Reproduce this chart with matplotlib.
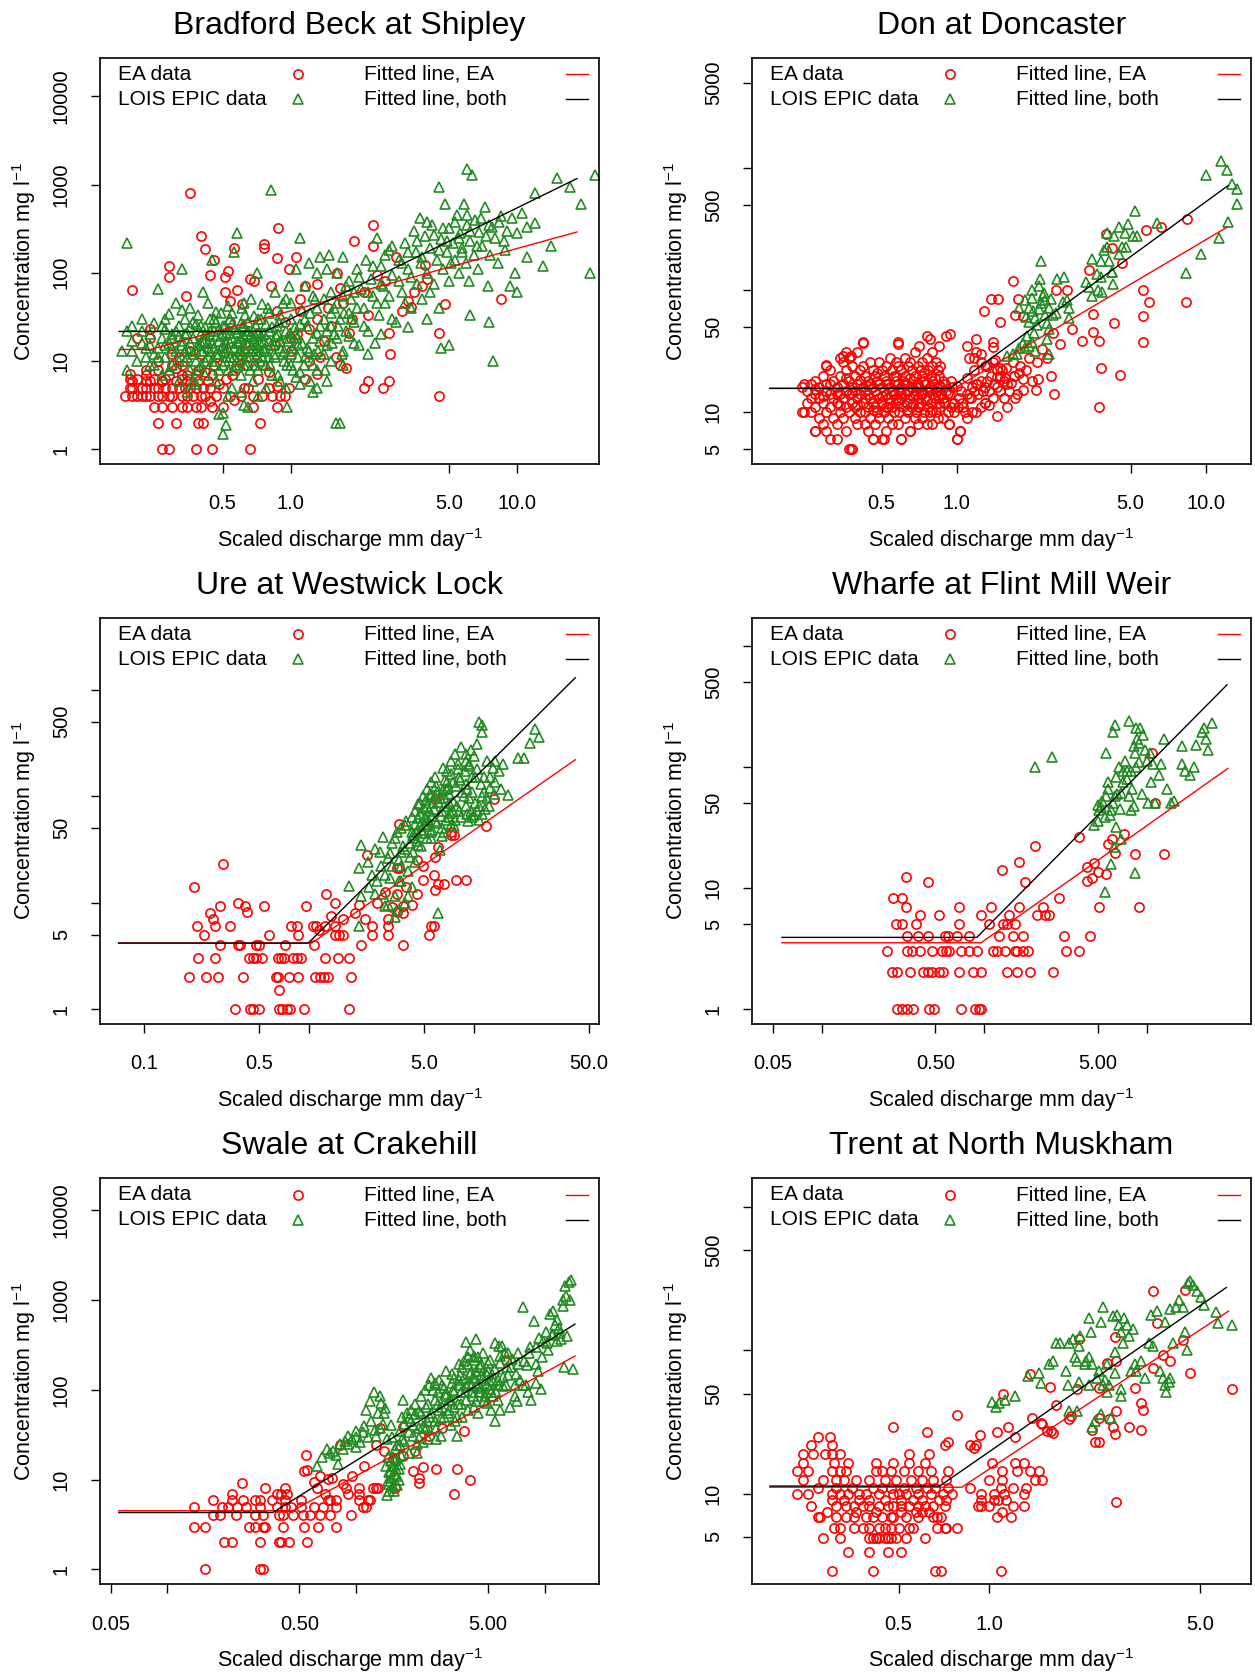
import numpy as np
import matplotlib
matplotlib.use("Agg")
import matplotlib.pyplot as plt
from matplotlib.ticker import FixedLocator, FixedFormatter, NullLocator

plt.rcParams["font.family"] = ["Liberation Sans", "DejaVu Sans"]
plt.rcParams["mathtext.fontset"] = "custom"
plt.rcParams["mathtext.rm"] = "Liberation Sans"
plt.rcParams["mathtext.it"] = "Liberation Sans:italic"
plt.rcParams["mathtext.bf"] = "Liberation Sans:bold"

# ---------------- Bradford Beck at Shipley ----------------
bradford_ea = [
    (0.36, 810), (0.40, 260), (0.42, 185), (0.56, 190), (0.88, 320), (0.76, 210), (0.76, 190), (2.3, 350), (2.3, 200), (1.9, 230),
    (0.20, 63), (0.29, 118), (0.29, 89), (0.345, 55), (0.44, 95), (0.53, 105), (0.51, 89), (0.46, 140), (1.05, 150), (1.15, 70),
    (1.6, 100), (1.65, 68), (0.82, 70), (0.66, 85), (0.69, 80), (0.58, 63), (0.61, 44), (0.54, 48), (0.51, 61), (3.9, 123),
    (4.8, 44), (8.5, 50), (4.5, 21), (2.75, 12), (2.7, 21), (3.1, 37), (3.4, 41), (3.3, 48), (2.2, 33), (1.8, 21),
    (2.1, 5), (2.2, 6), (2.55, 5), (2.7, 6), (4.5, 4), (1.75, 8.3), (1.65, 9.1), (1.2, 23), (1.06, 20), (1.35, 11),
    (1.3, 7.2), (1.15, 6.3), (0.98, 5), (0.94, 4), (0.83, 4), (0.68, 4), (0.54, 4), (0.42, 4), (0.37, 4), (0.33, 4),
    (0.29, 4), (0.26, 4), (0.23, 4), (0.21, 4), (0.185, 4), (0.195, 5), (0.22, 5), (0.25, 5), (0.28, 5), (0.32, 5),
    (0.36, 5), (0.41, 5), (0.195, 6.3), (0.21, 6.3), (0.25, 6.3), (0.28, 6.3), (0.33, 6.3), (0.195, 7.2), (0.23, 8), (0.26, 8),
    (0.31, 8.3), (0.33, 9.1), (0.39, 8), (0.46, 9), (0.58, 8.3), (0.24, 18), (0.21, 18), (0.24, 23), (0.27, 3), (0.33, 3),
    (0.38, 3), (0.40, 3), (0.50, 3), (0.68, 3), (0.87, 3), (0.26, 2), (0.31, 2), (0.39, 2), (0.41, 2), (0.73, 2),
    (0.27, 1), (0.29, 1), (0.38, 1), (0.45, 1), (0.66, 1), (0.9, 4), (0.72, 6.3), (0.87, 5.2), (0.52, 6.3), (0.58, 11),
    (0.63, 16), (0.71, 21), (0.87, 37), (0.94, 28), (1.1, 37), (1.46, 40), (1.3, 75), (0.98, 110), (0.87, 148), (0.54, 28),
    (0.42, 16), (0.36, 13), (0.32, 11), (1.59, 11), (1.86, 30), (3.8, 70), (4.0, 85), (0.3, 12), (0.45, 7), (0.5, 14),
    (0.62, 5), (0.75, 9), (1.0, 13), (1.4, 17), (0.27, 6), (0.35, 7), (0.48, 5.5), (0.56, 3.6), (0.8, 7.5), (0.23, 6),
    (0.44, 3.5), (1.1, 50), (1.5, 25), (2.4, 95), (2.9, 150), (3.5, 60),
    (0.2, 4), (0.22, 4), (0.24, 4), (0.27, 4), (0.3, 4), (0.35, 4), (0.4, 4), (0.47, 4), (0.2, 5), (0.23, 5),
    (0.26, 5), (0.3, 5), (0.34, 5), (0.38, 5), (0.44, 5), (0.5, 5), (0.2, 6), (0.24, 6), (0.27, 6), (0.31, 6),
    (0.35, 6), (0.39, 6), (0.43, 6), (0.23, 7), (0.29, 7), (0.33, 7), (0.38, 7), (0.42, 7.5), (0.25, 3), (0.3, 3),
    (0.35, 3), (0.45, 3), (0.6, 4), (0.75, 4), (0.65, 5), (0.8, 5), (0.55, 7), (0.64, 9), (0.7, 12), (0.85, 15),
    (1.2, 10), (1.0, 18), (1.3, 30), (1.7, 45), (2.1, 60), (2.6, 80), (0.4, 12), (0.3, 9), (0.26, 10), (0.47, 11),
]
bradford_lois = [
    (0.18, 13), (0.19, 22), (0.2, 17), (0.19, 217), (0.19, 8), (0.2, 25), (0.22, 30), (0.23, 11), (0.24, 15), (0.24, 20),
    (0.25, 9), (0.25, 27), (0.26, 14), (0.26, 65), (0.27, 18), (0.27, 7), (0.28, 11), (0.28, 23), (0.29, 16), (0.29, 34),
    (0.3, 9), (0.3, 20), (0.31, 13), (0.31, 45), (0.32, 6), (0.32, 25), (0.33, 17), (0.33, 110), (0.34, 10), (0.34, 30),
    (0.35, 14), (0.35, 21), (0.36, 8), (0.36, 40), (0.37, 12), (0.37, 18), (0.38, 26), (0.38, 5.5), (0.39, 15), (0.39, 33),
    (0.4, 9), (0.4, 20), (0.41, 13), (0.41, 60), (0.42, 24), (0.42, 7), (0.43, 16), (0.43, 11), (0.44, 30), (0.44, 19),
    (0.45, 10), (0.45, 140), (0.46, 14), (0.46, 22), (0.47, 6), (0.47, 28), (0.48, 12), (0.48, 17), (0.49, 35), (0.5, 9),
    (0.5, 20), (0.5, 2.6), (0.51, 13), (0.51, 25), (0.52, 16), (0.52, 1.9), (0.53, 8), (0.53, 42), (0.54, 11), (0.54, 30),
    (0.55, 18), (0.55, 5), (0.56, 14), (0.56, 170), (0.57, 23), (0.58, 10), (0.58, 280), (0.59, 16), (0.6, 7), (0.6, 27),
    (0.61, 12), (0.62, 19), (0.62, 3.2), (0.63, 33), (0.64, 9), (0.65, 15), (0.65, 22), (0.66, 11), (0.67, 50), (0.68, 6),
    (0.68, 18), (0.7, 13), (0.7, 25), (0.71, 100), (0.72, 8), (0.73, 16), (0.74, 30), (0.75, 11), (0.76, 20), (0.77, 14),
    (0.78, 5), (0.79, 40), (0.8, 17), (0.81, 9), (0.82, 860), (0.83, 24), (0.84, 12), (0.85, 60), (0.86, 19), (0.88, 7),
    (0.89, 28), (0.9, 14), (0.92, 45), (0.93, 10), (0.95, 22), (0.96, 3), (0.97, 17), (0.98, 70), (1.0, 12), (1.0, 30),
    (1.02, 8), (1.05, 110), (1.05, 20), (1.08, 15), (1.1, 250), (1.12, 38), (1.15, 11), (1.18, 25), (1.2, 130), (1.22, 6),
    (1.25, 18), (1.28, 50), (1.3, 100), (1.32, 13), (1.35, 150), (1.4, 30), (1.42, 8), (1.45, 22), (1.48, 160), (1.5, 60),
    (1.52, 16), (1.55, 40), (1.58, 2), (1.6, 100), (1.62, 25), (1.65, 2), (1.68, 12), (1.7, 150), (1.72, 35), (1.75, 70),
    (1.8, 19), (1.85, 50), (1.9, 28), (1.95, 110), (2.0, 15), (2.05, 65), (2.1, 40), (2.15, 140), (2.2, 22), (2.25, 85),
    (2.3, 55), (2.35, 16), (2.4, 250), (2.45, 33), (2.5, 120), (2.55, 70), (2.6, 45), (2.7, 180), (2.8, 95), (2.9, 28),
    (3.0, 140), (3.1, 60), (3.2, 220), (3.3, 110), (3.4, 40), (3.5, 300), (3.55, 170), (3.6, 75), (3.7, 420), (3.75, 130),
    (3.8, 50), (3.9, 260), (4.0, 100), (4.0, 30), (4.1, 190), (4.2, 350), (4.3, 75), (4.4, 140), (4.5, 950), (4.5, 40),
    (4.6, 240), (4.7, 110), (4.8, 600), (4.9, 170), (5.0, 320), (5.0, 80), (5.2, 220), (5.3, 140), (5.4, 450), (5.5, 100),
    (5.6, 280), (5.7, 190), (5.8, 600), (5.9, 130), (6.0, 1500), (6.0, 350), (6.1, 80), (6.2, 230), (6.3, 1300), (6.4, 160),
    (6.5, 400), (6.7, 110), (6.8, 290), (7.0, 200), (7.2, 560), (7.4, 70), (7.5, 350), (7.6, 160), (7.8, 10), (8.0, 250),
    (8.2, 130), (8.5, 440), (8.8, 180), (9.0, 300), (9.3, 70), (9.8, 100), (10.0, 60), (10.5, 480), (11, 150), (12, 800),
    (12, 370), (13, 120), (14, 200), (15, 1200), (17, 950), (19, 600), (21, 100), (22, 1300), (5, 15), (4.6, 14),
    (7.5, 28), (6.2, 33), (0.3, 14), (0.32, 19), (0.34, 13), (0.36, 24), (0.38, 10), (0.4, 16), (0.42, 20), (0.44, 13),
    (0.46, 9), (0.48, 23), (0.5, 15), (0.52, 11), (0.54, 21), (0.56, 8), (0.58, 17), (0.6, 13), (0.62, 25), (0.64, 11),
    (0.66, 19), (0.68, 14), (0.7, 9), (0.72, 21), (0.74, 13), (0.76, 17), (0.78, 26), (0.8, 11), (0.84, 15), (0.88, 20),
    (0.92, 12), (0.96, 18), (1.0, 9), (1.04, 24), (1.08, 11), (1.12, 16), (1.16, 30), (1.2, 13), (1.25, 9), (1.3, 21),
    (1.35, 17), (1.4, 12), (1.5, 25), (1.6, 18), (1.7, 9), (1.8, 35), (0.28, 30), (0.33, 38), (0.37, 6), (0.43, 45),
    (0.47, 36), (0.55, 35), (0.61, 40), (0.69, 32), (0.75, 44), (0.83, 7), (0.9, 33), (1.0, 45), (0.25, 12), (0.22, 16),
    (0.2, 13), (0.35, 4.5), (0.53, 4), (0.6, 4.5), (0.72, 4), (0.95, 5), (1.1, 5.5), (1.3, 5), (1.45, 6), (1.25, 4.5),
    (1.05, 6.5), (0.65, 3), (0.48, 2.5), (0.5, 1.5),
    (0.21, 10), (0.22, 22), (0.23, 14), (0.24, 9), (0.26, 11), (0.27, 25), (0.28, 15), (0.29, 8), (0.3, 18), (0.31, 22),
    (0.32, 10), (0.33, 15), (0.34, 20), (0.35, 11), (0.36, 16), (0.37, 28), (0.38, 13), (0.39, 8), (0.4, 25), (0.41, 17),
    (0.42, 10), (0.43, 14), (0.44, 22), (0.45, 16), (0.46, 30), (0.47, 12), (0.48, 8), (0.49, 19), (0.5, 25), (0.51, 10),
    (0.52, 20), (0.53, 14), (0.54, 16), (0.55, 26), (0.56, 11), (0.57, 9), (0.58, 21), (0.59, 13), (0.6, 18), (0.61, 24),
    (0.62, 9), (0.63, 14), (0.64, 20), (0.65, 28), (0.66, 8), (0.67, 13), (0.68, 22), (0.69, 17), (0.7, 11), (0.71, 15),
    (0.72, 30), (0.73, 10), (0.74, 19), (0.76, 13), (0.78, 9), (0.8, 22), (0.82, 15), (0.85, 11), (0.87, 25), (0.9, 17),
    (0.93, 13), (0.96, 9), (0.99, 21), (1.02, 14), (1.06, 18), (1.1, 26), (1.14, 9), (1.18, 14), (1.22, 35), (1.26, 12),
    (1.3, 40), (1.35, 25), (1.4, 50), (1.45, 15), (1.5, 35), (1.55, 20), (1.6, 45), (1.65, 30), (1.7, 55), (1.75, 22),
    (1.8, 80), (1.85, 30), (1.9, 60), (1.95, 40), (2.0, 90), (2.1, 25), (2.2, 60), (2.3, 120), (2.4, 45), (2.5, 75),
    (2.6, 160), (2.7, 55), (2.8, 200), (3.0, 80), (3.1, 130), (3.2, 45), (3.3, 170), (3.4, 90), (3.6, 230), (3.8, 150),
    (4.0, 380), (4.1, 60), (4.3, 270), (4.5, 180), (4.7, 320), (4.9, 230), (5.1, 130), (5.3, 380), (5.5, 250), (5.7, 170),
    (6.0, 450), (6.2, 300), (6.6, 200), (6.9, 420), (7.3, 260), (7.7, 330), (8.3, 380), (8.7, 230), (9.5, 420), (10, 280),
    (11, 330), (1.15, 70), (1.45, 110), (1.25, 55), (0.95, 50), (0.8, 35), (0.62, 45), (0.9, 6), (1.1, 7.5), (1.3, 8),
    (1.5, 10), (1.7, 13), (1.9, 16), (2.2, 12), (2.5, 20), (2.8, 30), (3.3, 24),
]
bradford_fit_ea_q = [0.175, 0.24, 18.3]
bradford_fit_ea_c = [13.5, 13.5, 290]
bradford_fit_both_q = [0.175, 0.77, 18.3]
bradford_fit_both_c = [21.6, 21.6, 1170]

# ---------------- Don at Doncaster ----------------
don_ea = [
    (0.37, 5), (0.38, 5),
    (0.31, 6), (0.46, 6), (0.50, 6), (0.60, 6), (1.0, 6),
    (0.27, 7), (0.30, 7), (0.36, 7), (0.44, 7), (0.52, 7), (0.65, 7), (1.03, 7),
    (0.29, 8), (0.33, 8), (0.40, 8), (0.43, 8), (0.47, 8), (0.55, 8), (0.58, 8), (0.70, 8), (0.76, 8), (0.80, 8), (0.93, 8),
    (0.28, 9), (0.32, 9), (0.35, 9), (0.39, 9), (0.45, 9), (0.49, 9), (0.53, 9), (0.62, 9), (0.68, 9), (0.73, 9), (0.84, 9), (0.88, 9), (1.1, 9),
    (0.24, 10), (0.26, 10), (0.30, 10), (0.34, 10), (0.37, 10), (0.41, 10), (0.43, 10), (0.48, 10), (0.51, 10), (0.56, 10), (0.59, 10),
    (0.64, 10), (0.69, 10), (0.74, 10), (0.78, 10), (0.83, 10), (0.92, 10), (0.98, 10), (1.08, 10), (1.15, 10), (1.2, 10),
    (0.27, 11), (0.31, 11), (0.36, 11), (0.39, 11), (0.44, 11), (0.47, 11), (0.52, 11), (0.55, 11), (0.61, 11), (0.66, 11), (0.71, 11),
    (0.77, 11), (0.86, 11), (0.95, 11), (1.01, 11), (1.25, 11),
    (0.25, 12), (0.29, 12), (0.33, 12), (0.38, 12), (0.42, 12), (0.46, 12), (0.50, 12), (0.54, 12), (0.58, 12), (0.63, 12), (0.67, 12),
    (0.72, 12), (0.79, 12), (0.85, 12), (0.90, 12), (0.97, 12), (1.05, 12), (1.3, 12),
    (0.26, 13), (0.28, 13), (0.32, 13), (0.35, 13), (0.40, 13), (0.45, 13), (0.49, 13), (0.53, 13), (0.57, 13), (0.60, 13), (0.65, 13),
    (0.70, 13), (0.75, 13), (0.82, 13), (0.88, 13), (1.02, 13), (1.12, 13), (1.4, 13),
    (0.27, 14), (0.31, 14), (0.34, 14), (0.37, 14), (0.41, 14), (0.44, 14), (0.48, 14), (0.52, 14), (0.56, 14), (0.62, 14), (0.68, 14),
    (0.73, 14), (0.80, 14), (0.87, 14), (0.94, 14), (1.1, 14), (1.22, 14),
    (0.25, 15), (0.30, 15), (0.36, 15), (0.39, 15), (0.43, 15), (0.47, 15), (0.51, 15), (0.55, 15), (0.59, 15), (0.64, 15), (0.69, 15),
    (0.76, 15), (0.83, 15), (0.91, 15), (1.04, 15), (1.18, 15), (1.35, 15), (1.5, 15),
    (0.24, 16), (0.28, 16), (0.33, 16), (0.38, 16), (0.42, 16), (0.46, 16), (0.50, 16), (0.54, 16), (0.60, 16), (0.66, 16), (0.71, 16),
    (0.78, 16), (0.86, 16), (0.96, 16), (1.15, 16), (1.3, 16), (1.45, 16),
    (0.26, 17), (0.30, 17), (0.35, 17), (0.40, 17), (0.45, 17), (0.49, 17), (0.53, 17), (0.58, 17), (0.63, 17), (0.70, 17), (0.75, 17),
    (0.81, 17), (0.90, 17), (1.2, 17), (1.42, 17), (1.6, 17),
    (0.27, 18), (0.32, 18), (0.37, 18), (0.44, 18), (0.48, 18), (0.52, 18), (0.57, 18), (0.61, 18), (0.67, 18), (0.74, 18), (0.80, 18),
    (0.88, 18), (1.25, 18), (1.55, 18),
    (0.29, 20), (0.34, 20), (0.39, 20), (0.43, 20), (0.47, 20), (0.51, 20), (0.56, 20), (0.62, 20), (0.68, 20), (0.73, 20), (0.79, 20),
    (0.85, 20), (1.38, 20), (1.5, 20), (1.7, 20),
    (0.31, 22), (0.36, 22), (0.41, 22), (0.46, 22), (0.50, 22), (0.55, 22), (0.60, 22), (0.66, 22), (0.72, 22), (0.77, 22), (0.84, 22),
    (1.45, 22), (1.52, 22),
    (0.30, 24), (0.38, 24), (0.42, 24), (0.52, 24), (0.58, 24), (0.64, 24), (0.70, 24), (0.80, 24), (0.86, 24), (1.33, 24),
    (0.35, 26), (0.45, 26), (0.49, 26), (0.57, 26), (0.65, 26), (0.73, 26), (0.83, 26), (1.25, 26), (1.4, 26),
    (0.34, 28), (0.37, 28), (0.54, 28), (0.62, 28), (0.76, 28), (1.12, 28), (1.18, 28),
    (0.36, 31), (0.40, 31), (0.68, 31), (0.80, 31), (1.2, 31), (0.71, 35), (0.85, 35), (1.1, 35), (0.42, 38), (0.58, 38), (1.4, 38),
    (0.76, 42), (0.91, 42),
    (1.21, 17), (1.3, 12), (1.35, 11.5), (1.4, 34), (1.43, 27), (1.5, 23), (1.57, 19), (1.63, 15), (1.7, 20), (1.75, 14),
    (1.8, 24), (1.6, 11), (1.55, 13), (1.65, 17.5), (1.72, 13), (1.3, 24), (1.25, 30),
    (0.244, 10), (0.244, 17), (0.27, 7), (0.30, 24.6), (0.33, 6), (0.35, 28.7), (0.377, 28.7), (0.377, 5), (0.42, 37), (0.46, 6),
    (0.51, 6), (0.58, 36), (0.6, 6), (0.65, 7), (0.78, 39.6), (0.94, 44), (1.0, 6), (1.03, 7), (0.93, 8),
    (1.29, 68), (1.37, 85), (1.47, 85), (1.69, 120), (1.72, 63), (1.77, 84), (1.85, 62), (2.44, 45), (2.47, 14.2), (2.09, 15.1),
    (2.1, 26), (2.12, 18.7), (1.85, 18.7), (1.85, 15.1), (1.46, 9.3), (2.51, 100), (2.77, 100), (3.2, 38.3), (3.53, 45.3), (3.53, 63.4),
    (3.73, 38.3), (3.8, 23.1), (3.73, 11), (4.29, 54), (4.53, 20.2), (3.4, 147), (3.98, 291), (4.21, 220), (4.6, 168), (5.75, 312),
    (5.59, 100), (5.9, 80), (5.59, 62), (5.59, 38), (6.6, 329), (8.38, 381), (8.3, 80),
    (0.27, 15.5), (0.29, 13.5), (0.31, 17), (0.33, 14), (0.34, 11.5), (0.36, 19), (0.38, 14.5), (0.4, 11.5), (0.41, 18.5), (0.43, 13),
    (0.44, 16.5), (0.46, 10.5), (0.48, 21), (0.5, 13.5), (0.52, 17), (0.53, 11), (0.55, 15), (0.57, 20), (0.58, 12.5), (0.6, 14.5),
    (0.62, 17.5), (0.63, 10.5), (0.65, 19), (0.67, 13.5), (0.69, 16), (0.7, 11), (0.72, 14), (0.74, 21), (0.76, 12.5), (0.78, 15.5),
    (0.8, 10.5), (0.82, 19), (0.84, 13.5), (0.86, 16.5), (0.89, 12), (0.92, 14.5), (0.95, 18), (0.98, 12), (1.0, 16.5), (1.06, 11),
    (1.1, 19), (1.14, 13), (1.18, 22), (1.28, 15), (1.33, 18), (1.45, 19.5), (1.58, 23), (1.68, 26), (1.78, 21), (1.9, 22),
    (1.95, 28), (2.0, 18), (2.2, 33), (2.3, 28), (2.4, 20), (2.6, 36), (2.9, 48), (1.2, 40), (1.5, 55),
]
don_lois = [
    (1.6, 29), (1.69, 30), (1.78, 33.5), (1.85, 37), (1.88, 33.5), (1.92, 42), (1.95, 72), (2.0, 86), (2.0, 101), (2.03, 68),
    (2.07, 59), (2.1, 52), (2.14, 108), (2.17, 124), (2.18, 78), (2.22, 89), (2.26, 63), (2.3, 54), (2.35, 48), (2.35, 72),
    (1.95, 35), (2.07, 32), (2.18, 174), (2.53, 124), (2.7, 128), (2.67, 80), (2.83, 72), (2.83, 59), (2.78, 83), (2.44, 63),
    (2.26, 83), (1.88, 83), (1.78, 72), (3.3, 116), (3.4, 106), (3.5, 180), (3.65, 137), (3.8, 174), (3.9, 212), (4.0, 227),
    (4.1, 174), (4.2, 142), (4.24, 112), (4.3, 278), (4.0, 297), (4.5, 199), (4.6, 227), (4.73, 297), (4.8, 227), (5.1, 278),
    (5.3, 278), (5.2, 445), (4.9, 352), (4.5, 330), (3.8, 128), (3.7, 100), (3.85, 96), (3.5, 89), (4.2, 142), (6.4, 359),
    (8.3, 139), (9.6, 199), (10.0, 883), (11.3, 268), (11.5, 1155), (12.2, 964), (12.3, 364), (12.8, 736), (13.3, 675), (13.3, 509),
    (1.95, 55), (2.05, 45), (2.15, 70), (2.25, 95), (2.4, 85), (2.0, 38), (1.9, 60), (2.3, 40), (2.35, 30), (1.75, 30), (2.5, 65),
]
don_fit_ea_q = [0.178, 0.98, 12.2]
don_fit_ea_c = [15.7, 15.7, 329]
don_fit_both_q = [0.178, 0.94, 12.3]
don_fit_both_c = [15.7, 15.7, 721]

# ---------------- Ure at Westwick Lock ----------------
ure_ea = [
    (0.357, 1), (0.44, 1), (0.46, 1), (0.50, 1), (0.66, 1), (0.69, 1), (0.74, 1), (0.77, 1), (0.93, 1), (1.74, 1), (0.66, 1.5),
    (0.187, 2), (0.236, 2), (0.28, 2), (0.40, 2), (0.63, 2), (0.65, 2), (0.76, 2), (0.86, 2), (1.08, 2), (1.16, 2), (1.24, 2), (1.31, 2), (1.79, 2),
    (0.211, 3), (0.27, 3), (0.43, 3), (0.46, 3), (0.48, 3), (0.52, 3), (0.65, 3), (0.68, 3), (0.71, 3), (0.80, 3), (0.84, 3), (0.90, 3),
    (1.25, 3), (1.5, 3), (1.74, 3),
    (0.29, 4), (0.37, 4), (0.38, 4), (0.48, 4), (0.50, 4), (0.72, 4), (1.07, 4), (2.08, 4), (3.7, 4),
    (0.23, 5), (0.57, 5), (0.86, 5), (1.44, 5), (1.53, 5), (1.6, 5), (2.4, 5), (3.0, 5), (5.35, 5),
    (0.21, 6), (0.27, 6), (0.33, 6), (0.78, 6), (0.84, 6), (1.05, 6), (1.1, 6), (1.25, 6), (1.43, 6), (2.4, 6), (3.0, 6), (5.5, 6), (5.7, 6),
    (0.26, 7), (2.2, 7), (3.0, 7), (0.25, 8), (3.4, 8.2), (3.7, 7.9),
    (0.29, 9.2), (0.37, 10), (0.41, 9.2), (0.42, 8.2), (0.53, 9.2), (0.96, 9.2), (1.43, 9.9), (4.2, 9.5), (3.7, 9.2),
    (1.27, 12), (3.4, 12), (0.2, 14), (0.30, 23), (2.25, 28), (3.4, 21), (3.5, 21), (4.9, 16.4), (5.7, 18.3), (5.8, 13),
    (6.1, 15), (6.6, 15), (7.8, 16.4), (9.0, 16.2), (3.49, 55), (5.8, 93), (7.3, 43), (7.6, 43), (11.9, 52), (13.3, 93),
    (4.9, 22), (4.5, 25), (5.8, 27), (6.1, 33), (7.3, 46), (1.6, 7), (1.9, 8), (2.6, 10), (2.9, 12.5), (3.2, 9),
    (3.9, 14), (4.5, 12), (2.0, 9.5), (1.15, 5.5), (1.35, 7.5),
]
ure_lois = [
    (1.74, 14.4), (2.0, 6), (2.08, 35), (2.0, 21), (2.27, 24), (2.08, 11.6), (2.3, 14), (2.53, 31.5), (2.6, 15.8), (2.72, 22),
    (2.8, 41), (2.8, 12), (2.9, 9.2), (3.1, 29), (3.2, 36.6), (3.3, 11.6), (3.34, 7.3), (3.4, 46), (3.5, 15.8), (3.6, 50),
    (3.7, 34), (3.8, 54), (4.0, 19.7), (4.0, 11.6), (4.1, 36.6), (4.2, 63), (4.3, 43), (4.4, 73), (4.4, 24), (4.5, 46),
    (4.7, 54), (4.7, 86), (4.8, 34), (4.9, 100), (5.05, 63), (5.2, 116), (5.2, 40), (5.35, 73), (5.5, 135), (5.5, 46),
    (5.65, 86), (5.8, 58), (5.8, 150), (6.0, 108), (6.1, 7.9), (6.2, 31), (6.4, 73), (6.5, 185), (6.6, 46), (6.8, 116),
    (6.9, 170), (7.1, 86), (7.3, 215), (7.3, 54), (7.5, 135), (7.7, 250), (7.9, 80), (8.1, 150), (8.4, 290), (8.7, 100),
    (8.9, 215), (8.9, 250), (9.1, 116), (9.6, 73), (9.6, 270), (9.8, 150), (10.2, 86), (10.4, 305), (10.8, 500), (11.2, 465),
    (11.2, 400), (11.2, 100), (11.5, 150), (12.0, 215), (12.3, 80), (13, 185), (13.5, 215), (13.5, 135), (14.2, 170), (14.7, 116),
    (15, 200), (16.2, 103), (18.5, 230), (20, 230), (22, 315), (23.5, 430), (25, 360), (4.2, 46), (4.7, 68), (5.0, 55),
    (5.2, 80), (5.8, 100), (6.6, 80), (7.1, 63), (7.5, 73), (8.1, 73), (8.9, 80), (9.1, 68), (9.8, 63), (10.4, 73),
    (10.8, 80), (11.2, 68), (3.0, 26), (3.6, 30), (4.5, 38), (5.6, 65), (6.2, 95), (7.0, 120), (8.0, 180), (9.3, 200),
    (10.0, 240), (6.7, 140), (5.4, 105), (4.6, 85), (3.9, 58), (3.3, 40), (2.7, 30), (2.4, 18), (3.1, 17), (3.6, 22),
    (4.3, 30), (5.5, 40), (6.4, 50), (7.7, 60), (9.4, 95), (12.5, 120),
    (4.4, 55), (4.6, 62), (4.8, 48), (5.0, 78), (5.1, 92), (5.3, 60), (5.5, 100), (5.7, 75), (5.9, 125), (6.1, 88),
    (6.3, 65), (6.5, 115), (6.7, 95), (6.9, 135), (7.1, 105), (7.3, 160), (7.5, 90), (7.8, 125), (8.0, 200), (8.2, 140),
    (8.5, 110), (8.8, 170), (9.0, 130), (9.4, 190), (9.7, 110), (10.1, 150), (10.5, 180), (11, 130), (11.5, 110), (12, 95),
    (12.6, 150), (13.2, 105), (3.5, 25), (3.8, 32), (4.1, 27), (4.3, 40), (4.6, 35), (4.9, 45), (5.2, 52), (5.6, 48),
    (6.0, 56), (6.4, 42), (6.8, 60), (7.2, 70), (7.6, 52), (8.4, 64), (9.2, 58), (10, 66), (10.8, 60), (11.6, 75),
    (2.9, 18), (3.2, 22), (3.6, 16), (3.8, 10), (4.2, 14), (2.5, 12), (3.0, 9.5), (3.4, 8.5),
]
ure_fit_ea_q = [0.070, 1.04, 41.2]
ure_fit_ea_c = [4.16, 4.16, 219]
ure_fit_both_q = [0.070, 0.99, 41.2]
ure_fit_both_c = [4.16, 4.16, 1290]

# ---------------- Wharfe at Flint Mill Weir ----------------
wharfe_ea = [
    (0.289, 1), (0.31, 1), (0.337, 1), (0.367, 1), (0.459, 1), (0.49, 1), (0.72, 1), (0.88, 1), (0.93, 1), (0.96, 1),
    (0.27, 2), (0.29, 2), (0.35, 2), (0.42, 2), (0.45, 2), (0.48, 2), (0.53, 2), (0.56, 2), (0.70, 2), (0.85, 2), (0.96, 2),
    (1.39, 2), (1.6, 2), (1.9, 2), (2.65, 2),
    (0.254, 3), (0.337, 3), (0.357, 3), (0.40, 3), (0.48, 3), (0.55, 3), (0.58, 3), (0.61, 3), (0.72, 3), (0.81, 3), (0.90, 3),
    (1.14, 3), (1.2, 3), (1.35, 3), (1.55, 3), (1.6, 3), (1.73, 3), (1.87, 3), (3.2, 3), (3.8, 3),
    (0.337, 4), (0.39, 4), (0.45, 4), (0.57, 4), (0.60, 4), (0.68, 4), (0.81, 4), (1.23, 4), (1.5, 4), (1.73, 4), (3.1, 4), (4.5, 4),
    (0.285, 5), (0.31, 5), (0.38, 5), (0.70, 5), (1.07, 5), (1.31, 5), (1.39, 5), (1.55, 5),
    (0.40, 6), (0.53, 6), (0.95, 6), (1.42, 6), (2.1, 6), (2.36, 6), (2.5, 6),
    (0.33, 7), (0.70, 7), (1.1, 7), (1.64, 7), (2.3, 7), (5.1, 7), (9.0, 7), (0.275, 8.3), (0.31, 8.3), (2.9, 8.3),
    (0.33, 12.2), (0.45, 11.1), (1.28, 14), (1.64, 16.4), (1.78, 11.2), (2.05, 22), (4.3, 11.3), (4.6, 12.1), (4.75, 15.9), (5.0, 13.4),
    (5.6, 12.9), (5.8, 23), (6.1, 25.5), (6.4, 19.4), (7.2, 28), (8.5, 19.2), (12.8, 19.2), (10.8, 129), (11.3, 50), (3.8, 26.3),
    (4.3, 14.8),
]
wharfe_lois = [
    (2.05, 100), (2.6, 121), (5.5, 9.2), (6.0, 15.8), (6.3, 21.8), (6.5, 32), (6.9, 25.5), (8.4, 13.2), (4.75, 33), (5.0, 35.7),
    (5.1, 43.6), (5.2, 46.8), (5.0, 48.4), (5.5, 38.2), (5.6, 57), (5.8, 65), (5.8, 75), (6.0, 43.6), (6.2, 50), (6.4, 57),
    (6.5, 83), (6.7, 99), (6.9, 61), (7.1, 75), (7.3, 112), (7.5, 92), (7.8, 57), (8.0, 43.6), (8.1, 65), (8.3, 47),
    (8.4, 129), (8.6, 99), (8.9, 158), (9.1, 208), (9.5, 182), (9.8, 138), (10.0, 112), (10.2, 50), (10.6, 75), (10.9, 106),
    (11.3, 50), (11.8, 86), (12.2, 106), (12.8, 169), (13.3, 65), (14, 50), (14.7, 52), (16.5, 148), (16.5, 106), (17.2, 92),
    (18.5, 86), (19.5, 99), (20.2, 152), (21.9, 193), (22.6, 208), (23, 169), (23.9, 138), (25, 230), (6.2, 192), (6.4, 220),
    (7.8, 237), (8.6, 208), (8.7, 169), (8.3, 148), (5.6, 129), (7.1, 92), (8.0, 92), (6.6, 60), (7.6, 80), (9.3, 60),
    (5.3, 52), (5.9, 40), (6.8, 45), (9.0, 110), (10.5, 130),
]
wharfe_fit_ea_q = [0.057, 0.957, 31.5]
wharfe_fit_ea_c = [3.52, 3.52, 97]
wharfe_fit_both_q = [0.057, 0.90, 31.1]
wharfe_fit_both_c = [3.9, 3.9, 475]

# ---------------- Swale at Crakehill ----------------
swale_ea = [
    (0.158, 1), (0.31, 1), (0.32, 1),
    (0.2, 2), (0.22, 2), (0.31, 2), (0.39, 2), (0.4, 2), (0.44, 2), (0.55, 2),
    (0.138, 3), (0.158, 3), (0.27, 3), (0.29, 3), (0.32, 3), (0.33, 3), (0.41, 3), (0.53, 3), (0.63, 3), (0.78, 3),
    (0.174, 4), (0.19, 4), (0.23, 4), (0.29, 4), (0.32, 4), (0.39, 4), (0.41, 4), (0.46, 4), (0.52, 4), (0.57, 4), (0.64, 4),
    (0.73, 4), (0.94, 4),
    (0.138, 5), (0.194, 5), (0.21, 5), (0.235, 5), (0.26, 5), (0.31, 5), (0.38, 5), (0.42, 5), (0.45, 5), (0.51, 5), (0.6, 5),
    (0.67, 5), (0.78, 5), (1.09, 5), (1.12, 5),
    (0.175, 6), (0.22, 6), (0.25, 6), (0.29, 6), (0.31, 6), (0.36, 6), (0.42, 6), (0.51, 6), (0.71, 6), (0.73, 6), (0.78, 6),
    (1.04, 6), (1.15, 6), (1.18, 6),
    (0.22, 7), (0.38, 7), (0.40, 7), (0.43, 7), (0.68, 7), (0.90, 7), (1.04, 7),
    (0.33, 8), (0.42, 8), (0.62, 8), (0.88, 8), (1.04, 8), (1.22, 8), (1.27, 8), (1.31, 8),
    (0.247, 9.2), (0.53, 12.6), (0.55, 12.9), (0.54, 19), (0.71, 10.2), (0.74, 10.3), (0.64, 11), (1.6, 8), (2.0, 12.6), (2.16, 10.5),
    (2.16, 9.2), (2.27, 13.8), (2.63, 13), (3.3, 7), (3.4, 13.2), (4.0, 10), (2.05, 21), (2.36, 36), (1.77, 39), (1.33, 38),
    (1.28, 24), (0.82, 24), (3.7, 35), (4.5, 95), (6.2, 215), (2.85, 38), (2.44, 31), (1.6, 16.6), (1.77, 18.2), (1.4, 21),
    (0.95, 11), (1.1, 14), (0.85, 9), (0.6, 9.5),
]
swale_lois = [
    (0.73, 20), (0.75, 21), (0.82, 25), (0.8, 15), (0.87, 27), (0.9, 31), (1.0, 30), (1.0, 23), (1.08, 34), (1.12, 59),
    (1.18, 75), (1.24, 94), (1.28, 31), (1.33, 38), (1.36, 71), (1.43, 14), (1.45, 6.7), (1.47, 9.6), (1.5, 12.1), (1.53, 12.6),
    (1.57, 18), (1.6, 22), (1.64, 8.8), (1.7, 15), (1.74, 49.6), (1.77, 78), (1.9, 34), (1.94, 59), (2.0, 31), (2.05, 54),
    (2.1, 20), (2.16, 38), (2.2, 86), (2.27, 26), (2.33, 65), (2.36, 45), (2.44, 112), (2.5, 135), (2.6, 78), (2.63, 38),
    (2.7, 94), (2.73, 59), (2.8, 31), (2.85, 112), (2.9, 49.6), (3.0, 162), (3.1, 78), (3.16, 41), (3.2, 120), (3.3, 65),
    (3.4, 31), (3.5, 195), (3.6, 94), (3.65, 49.6), (3.7, 135), (3.8, 78), (3.9, 195), (4.0, 280), (4.1, 112), (4.2, 65),
    (4.3, 162), (4.4, 233), (4.5, 94), (4.6, 195), (4.7, 135), (4.9, 71), (5.0, 162), (5.1, 103), (5.2, 59), (5.3, 124),
    (5.4, 45), (5.6, 78), (5.9, 310), (6.1, 255), (6.2, 112), (6.5, 65), (6.9, 86), (7.2, 195), (7.6, 840), (7.9, 112),
    (8.4, 78), (8.7, 580), (8.9, 195), (9.2, 162), (9.5, 103), (9.6, 233), (10.1, 440), (10.6, 700), (10.9, 405), (11.3, 530),
    (11.9, 490), (12.2, 370), (12.4, 1000), (12.7, 1430), (12.9, 1100), (13.4, 1590), (13.7, 1660), (12.6, 180), (1.7, 24), (1.9, 20),
    (2.0, 41), (2.16, 29), (2.33, 38), (2.6, 45), (2.85, 65), (3.16, 78), (3.5, 112), (4.2, 135), (4.9, 112), (5.3, 86),
    (5.6, 112), (6.4, 148), (6.9, 112), (7.6, 112), (3.3, 135), (3.65, 178), (3.9, 233), (4.2, 215), (4.6, 148), (5.1, 215),
    (5.4, 335), (5.7, 310), (6.4, 255), (4.3, 370), (3.8, 340), (1.33, 86), (1.53, 41), (1.4, 55), (1.55, 30), (1.65, 11),
    (1.5, 9), (1.58, 7.5), (1.68, 10), (1.52, 16), (1.62, 13), (1.72, 19), (1.8, 27), (2.2, 55), (2.4, 70), (2.55, 100),
    (2.75, 130), (2.95, 90), (3.05, 55), (3.25, 100), (3.45, 70), (3.55, 145), (3.75, 95), (3.95, 120), (4.05, 160), (4.15, 85),
    (4.35, 110), (4.55, 180), (4.75, 75), (4.85, 95), (5.05, 130), (5.25, 150), (5.5, 95), (5.75, 200), (6.0, 140), (6.6, 180),
    (7.0, 150), (7.4, 130), (8.0, 190), (8.2, 260), (9.0, 300), (9.8, 350), (10.4, 280), (11.0, 420), (11.6, 350), (12.0, 430),
    (1.9, 48), (2.1, 25), (2.45, 50), (2.65, 28), (3.35, 45), (4.4, 55), (5.8, 60), (7.1, 75), (8.1, 95), (9.0, 120),
    (0.62, 14), (0.66, 18), (0.7, 22), (0.78, 19), (0.85, 22), (0.9, 25), (0.95, 28), (1.0, 35), (1.05, 26), (1.1, 40),
    (1.15, 30), (1.2, 45), (1.25, 36), (1.3, 55), (1.38, 42), (1.42, 62), (1.46, 28), (1.48, 18), (1.5, 7.5), (1.52, 10.5),
    (1.55, 14), (1.57, 8.5), (1.6, 11.5), (1.62, 17), (1.65, 24), (1.68, 13), (1.7, 35), (1.75, 28), (1.8, 42), (1.85, 55),
    (1.95, 45), (2.05, 70), (2.15, 58), (2.25, 40), (2.3, 100), (2.4, 28), (2.5, 55), (2.6, 120), (2.7, 70), (2.8, 48),
    (2.9, 105), (3.0, 85), (3.1, 60), (3.2, 150), (3.3, 95), (3.4, 50), (3.5, 130), (3.6, 70), (3.7, 210), (3.8, 110),
    (3.9, 60), (4.0, 150), (4.1, 95), (4.2, 240), (4.3, 75), (4.4, 120), (4.5, 180), (4.6, 105), (4.7, 260), (4.8, 85),
    (4.9, 145), (5.0, 200), (5.2, 95), (5.4, 170), (5.6, 130), (5.8, 240), (6.0, 110), (6.3, 180), (6.7, 220), (7.2, 260),
    (7.7, 210), (8.3, 300), (9.3, 380), (10.2, 330), (11.5, 600), (13, 400), (13.5, 1000), (12.5, 850), (11, 750), (14, 170),
]
swale_fit_ea_q = [0.0553, 0.46, 14.4]
swale_fit_ea_c = [4.5, 4.5, 238]
swale_fit_both_q = [0.0553, 0.362, 14.4]
swale_fit_both_c = [4.3, 4.3, 540]

# ---------------- Trent at North Muskham ----------------
trent_ea = [
    (0.30, 2.9), (0.41, 2.9), (0.66, 2.9), (0.69, 2.9), (1.09, 2.9),
    (0.34, 3.9), (0.40, 3.9), (0.46, 3.9), (0.51, 3.9),
    (0.28, 4.9), (0.32, 4.9), (0.40, 4.9), (0.41, 4.9), (0.42, 4.9), (0.43, 4.9), (0.45, 4.9), (0.46, 4.9), (0.47, 4.9),
    (0.49, 4.9), (0.53, 4.9), (0.61, 4.9),
    (0.305, 5.8), (0.32, 5.8), (0.355, 5.8), (0.38, 5.8), (0.40, 5.8), (0.43, 5.8), (0.45, 5.8), (0.47, 5.8), (0.50, 5.8),
    (0.54, 5.8), (0.56, 5.8), (0.67, 5.8), (0.71, 5.8), (0.72, 5.8), (0.78, 5.8),
    (0.27, 6.9), (0.275, 6.9), (0.31, 6.9), (0.334, 6.9), (0.355, 6.9), (0.39, 6.9), (0.41, 6.9), (0.44, 6.9), (0.47, 6.9),
    (0.48, 6.9), (0.53, 6.9), (0.58, 6.9), (0.65, 6.9), (0.67, 6.9), (0.69, 6.9), (1.06, 6.9), (1.18, 6.9),
    (0.29, 7.5), (0.36, 7.5), (0.42, 7.5), (0.51, 7.5), (0.57, 7.5), (0.6, 7.5), (0.63, 7.5), (1.1, 7.5),
    (0.255, 8.2), (0.31, 8.2), (0.335, 8.2), (0.355, 8.2), (0.38, 8.2), (0.40, 8.2), (0.43, 8.2), (0.46, 8.2), (0.48, 8.2),
    (0.51, 8.2), (0.54, 8.2), (0.58, 8.2), (0.61, 8.2), (0.65, 8.2), (0.71, 8.2), (0.92, 8.2), (0.94, 8.2), (1.0, 8.2),
    (1.2, 8.2), (1.3, 8.2),
    (0.30, 9), (0.33, 9), (0.37, 9), (0.40, 9), (0.45, 9), (0.51, 9), (0.56, 9), (0.6, 9), (0.68, 9), (0.72, 9), (0.94, 9),
    (1.04, 9), (1.07, 9), (1.14, 9),
    (0.23, 10), (0.25, 10), (0.30, 10), (0.32, 10), (0.34, 10), (0.37, 10), (0.39, 10), (0.43, 10), (0.48, 10), (0.50, 10),
    (0.53, 10), (0.58, 10), (0.64, 10), (0.70, 10), (0.75, 10), (0.94, 10), (1.04, 10), (1.12, 10), (1.3, 10),
    (0.27, 11), (0.31, 11), (0.35, 11), (0.41, 11), (0.44, 11), (0.47, 11), (0.52, 11), (0.57, 11), (0.62, 11), (0.66, 11),
    (0.73, 11), (0.86, 11), (1.09, 11), (1.2, 11), (1.32, 11),
    (0.24, 12.5), (0.28, 12.5), (0.31, 12.5), (0.33, 12.5), (0.36, 12.5), (0.4, 12.5), (0.45, 12.5), (0.49, 12.5), (0.55, 12.5),
    (0.6, 12.5), (0.65, 12.5), (0.72, 12.5), (1.0, 12.5), (1.1, 12.5), (1.42, 12.5), (1.5, 12.5),
    (0.23, 14.5), (0.25, 14.5), (0.3, 14.5), (0.32, 14.5), (0.335, 14.5), (0.42, 14.5), (0.44, 14.5), (0.47, 14.5), (0.52, 14.5),
    (0.58, 14.5), (0.64, 14.5), (0.73, 14.5), (1.1, 14.5), (1.24, 14.5), (1.36, 14.5), (1.46, 14.5),
    (0.24, 16.5), (0.305, 16.5), (0.34, 16.5), (0.42, 16.5), (0.48, 16.5), (0.54, 16.5), (0.61, 16.5), (1.02, 16.5), (1.22, 16.5), (1.3, 16.5),
    (0.24, 19), (0.26, 19), (0.285, 19), (0.30, 19), (0.32, 19), (0.54, 19), (0.63, 19),
    (0.255, 22), (0.30, 22), (0.71, 22), (0.86, 22), (0.9, 22), (0.27, 25), (0.295, 25),
    (0.48, 29), (0.62, 27), (0.73, 23), (0.78, 35.5), (0.93, 25.7), (0.89, 21), (1.06, 27), (1.11, 49.5), (1.15, 29), (1.22, 25),
    (1.36, 68), (1.39, 34), (1.48, 31), (1.5, 30.5), (1.56, 27.5), (1.6, 27.5), (1.63, 26.5), (1.59, 56), (1.67, 41.6), (1.98, 120),
    (1.96, 54), (1.84, 33), (1.87, 35), (2.2, 28), (2.24, 22.9), (2.31, 22.9), (2.31, 34), (2.46, 82), (2.49, 33), (2.57, 29),
    (2.61, 26), (2.61, 124), (2.63, 8.8), (2.63, 38), (2.9, 29), (3.2, 28), (3.04, 55), (3.18, 43), (3.23, 38.5), (3.49, 260),
    (3.6, 155), (3.76, 93), (3.99, 85), (4.38, 119), (4.45, 266), (4.65, 70), (6.4, 54), (2.63, 85), (3.49, 76), (2.31, 55),
]
trent_lois = [
    (1.02, 44), (1.05, 40), (1.08, 43), (1.13, 45), (1.22, 48), (1.34, 66), (1.46, 70), (1.48, 59), (1.58, 80), (1.63, 85),
    (1.66, 113), (1.71, 113), (1.8, 72), (1.83, 57), (1.84, 113), (1.9, 120), (1.93, 90), (1.96, 85), (1.98, 108), (2.0, 127),
    (2.08, 80), (2.1, 85), (2.14, 90), (2.14, 57), (2.18, 134), (2.2, 29), (2.24, 32), (2.31, 72), (2.35, 159), (2.38, 200),
    (2.42, 62), (2.46, 80), (2.49, 57), (2.57, 174), (2.61, 98), (2.65, 178), (2.69, 150), (2.73, 134), (2.77, 113), (2.81, 168),
    (2.86, 150), (2.9, 127), (2.95, 72), (2.99, 141), (3.04, 80), (3.08, 72), (3.18, 85), (3.28, 64), (3.38, 113), (3.43, 178),
    (3.49, 108), (3.6, 188), (3.7, 72), (3.76, 64), (3.82, 57), (3.87, 51), (3.94, 60), (3.99, 64), (4.06, 113), (4.18, 200),
    (4.25, 225), (4.38, 200), (4.45, 134), (4.52, 101), (4.58, 298), (4.65, 305), (4.73, 285), (4.88, 260), (5.03, 237), (5.18, 207),
    (5.67, 186), (5.76, 155), (6.4, 151), (3.82, 159), (3.99, 195), (2.14, 168), (1.98, 60), (2.38, 57), (2.73, 48), (2.46, 51),
    (2.73, 54), (2.2, 80), (2.27, 64), (1.84, 38), (1.96, 38), (2.53, 34), (2.35, 36), (2.61, 70),
]
trent_fit_ea_q = [0.187, 0.81, 6.22]
trent_fit_ea_c = [11.1, 11.1, 188]
trent_fit_both_q = [0.187, 0.684, 6.12]
trent_fit_both_c = [11.3, 11.3, 275]

RED = "#FF0000"
GREEN = "#228B22"
MS_O, MS_T, MEW = 6.6, 6.8, 1.2


def draw_panel(ax, title, ea, lois, fit_ea, fit_both, xlim, ylim, xticks, xlabels, yticks, ylabels):
    ax.set_xscale("log")
    ax.set_yscale("log")
    q, c = np.array(ea, dtype=float).T
    ax.plot(q, c, ls="none", marker="o", ms=MS_O, mfc="none", mec=RED, mew=MEW)
    q, c = np.array(lois, dtype=float).T
    ax.plot(q, c, ls="none", marker="^", ms=MS_T, mfc="none", mec=GREEN, mew=MEW)
    ax.plot(fit_ea[0], fit_ea[1], color=RED, lw=1.0)
    ax.plot(fit_both[0], fit_both[1], color="black", lw=1.0)

    ax.set_xlim(xlim)
    ax.set_ylim(ylim)
    ax.xaxis.set_major_locator(FixedLocator(xticks))
    ax.xaxis.set_major_formatter(FixedFormatter(xlabels))
    ax.xaxis.set_minor_locator(NullLocator())
    ax.yaxis.set_major_locator(FixedLocator(yticks))
    ax.yaxis.set_major_formatter(FixedFormatter(ylabels))
    ax.yaxis.set_minor_locator(NullLocator())
    ax.tick_params(length=6.7, width=1.0, labelsize=14.5, direction="out")
    ax.tick_params(axis="x", pad=15.2)
    ax.tick_params(axis="y", pad=14.3, labelrotation=90)
    for lab in ax.get_yticklabels():
        lab.set_va("center")
    for sp in ax.spines.values():
        sp.set_linewidth(1.2)

    ax.set_title(title, fontsize=23, pad=17.5)
    ax.set_xlabel("Scaled discharge mm day$^{-1}$", fontsize=15.5)
    ax.xaxis.set_label_coords(0.5, -83 / 406)
    ax.xaxis.label.set_va("baseline")
    ax.set_ylabel("Concentration mg l$^{-1}$", fontsize=15.5)
    ax.yaxis.set_label_coords(-62 / 499, 0.5)

    # legend block, text first then key, as in the original
    y1, y2 = 0.9596, 0.898
    tr = ax.transAxes
    ax.text(0.036, y1, "EA data", transform=tr, va="center", ha="left", fontsize=15)
    ax.text(0.036, y2, "LOIS EPIC data", transform=tr, va="center", ha="left", fontsize=15)
    ax.plot([0.396], [y1], transform=tr, ls="none", marker="o", ms=MS_O, mfc="none", mec=RED, mew=MEW)
    ax.plot([0.396], [y2], transform=tr, ls="none", marker="^", ms=MS_T, mfc="none", mec=GREEN, mew=MEW)
    ax.text(0.529, y1, "Fitted line, EA", transform=tr, va="center", ha="left", fontsize=15)
    ax.text(0.529, y2, "Fitted line, both", transform=tr, va="center", ha="left", fontsize=15)
    ax.plot([0.933, 0.978], [y1, y1], transform=tr, color=RED, lw=1.0)
    ax.plot([0.933, 0.978], [y2, y2], transform=tr, color="black", lw=1.0)


fig = plt.figure(figsize=(12.55, 16.72), dpi=100)
lefts = [0.0797, 0.5992]
bottoms = [0.7225, 0.3876, 0.05245]
w, h = 0.3976, 0.2428

ax = fig.add_axes([lefts[0], bottoms[0], w, h])
draw_panel(ax, "Bradford Beck at Shipley", bradford_ea, bradford_lois,
           (bradford_fit_ea_q, bradford_fit_ea_c), (bradford_fit_both_q, bradford_fit_both_c),
           (0.144, 22.9), (0.68, 27200),
           [0.5, 1, 5, 10], ["0.5", "1.0", "5.0", "10.0"],
           [1, 10, 100, 1000, 10000], ["1", "10", "100", "1000", "10000"])

ax = fig.add_axes([lefts[1], bottoms[0], w, h])
draw_panel(ax, "Don at Doncaster", don_ea, don_lois,
           (don_fit_ea_q, don_fit_ea_c), (don_fit_both_q, don_fit_both_c),
           (0.151, 15.2), (3.77, 8000),
           [0.5, 1, 5, 10], ["0.5", "1.0", "5.0", "10.0"],
           [5, 10, 50, 100, 500, 1000, 5000], ["5", "10", "50", "", "500", "", "5000"])

ax = fig.add_axes([lefts[0], bottoms[1], w, h])
draw_panel(ax, "Ure at Westwick Lock", ure_ea, ure_lois,
           (ure_fit_ea_q, ure_fit_ea_c), (ure_fit_both_q, ure_fit_both_c),
           (0.054, 57.4), (0.724, 4700),
           [0.1, 0.5, 1, 5, 10, 50], ["0.1", "0.5", "", "5.0", "", "50.0"],
           [1, 5, 10, 50, 100, 500, 1000], ["1", "5", "", "50", "", "500", ""])

ax = fig.add_axes([lefts[1], bottoms[1], w, h])
draw_panel(ax, "Wharfe at Flint Mill Weir", wharfe_ea, wharfe_lois,
           (wharfe_fit_ea_q, wharfe_fit_ea_c), (wharfe_fit_both_q, wharfe_fit_both_c),
           (0.0373, 43.7), (0.752, 1695),
           [0.05, 0.1, 0.5, 1, 5, 10], ["0.05", "", "0.50", "", "5.00", ""],
           [1, 5, 10, 50, 100, 500, 1000], ["1", "5", "10", "50", "", "500", ""])

ax = fig.add_axes([lefts[0], bottoms[2], w, h])
draw_panel(ax, "Swale at Crakehill", swale_ea, swale_lois,
           (swale_fit_ea_q, swale_fit_ea_c), (swale_fit_both_q, swale_fit_both_c),
           (0.044, 19.3), (0.682, 22700),
           [0.05, 0.1, 0.5, 1, 5, 10], ["0.05", "", "0.50", "", "5.00", ""],
           [1, 10, 100, 1000, 10000], ["1", "10", "100", "1000", "10000"])

ax = fig.add_axes([lefts[1], bottoms[2], w, h])
draw_panel(ax, "Trent at North Muskham", trent_ea, trent_lois,
           (trent_fit_ea_q, trent_fit_ea_c), (trent_fit_both_q, trent_fit_both_c),
           (0.163, 7.39), (2.33, 1590),
           [0.5, 1, 5], ["0.5", "1.0", "5.0"],
           [5, 10, 50, 100, 500, 1000], ["5", "10", "50", "", "500", ""])

fig.savefig("out.png", dpi=100)
